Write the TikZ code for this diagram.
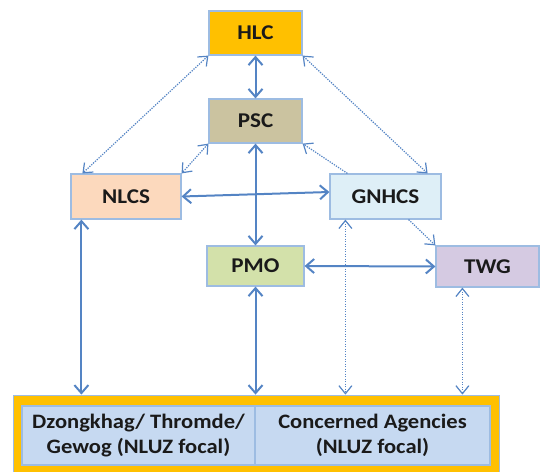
\documentclass[tikz,border=0pt]{standalone}
\usepackage{fontspec}
\setmainfont[FakeStretch=1.1]{Carlito}
\usetikzlibrary{arrows.meta}
\definecolor{arr}{HTML}{5484C4}
\definecolor{bord}{HTML}{9DBCE2}
\definecolor{hlcfill}{HTML}{FFC000}
\definecolor{pscfill}{HTML}{CBC3A0}
\definecolor{nlcsfill}{HTML}{FCD9BD}
\definecolor{gnhfill}{HTML}{DEEFF7}
\definecolor{pmofill}{HTML}{D3E1AA}
\definecolor{twgfill}{HTML}{D5CAE2}
\definecolor{cellfill}{HTML}{C6D9F1}
\definecolor{txt}{HTML}{1A1A1A}
\begin{document}
\begin{tikzpicture}[x=1pt,y=-1pt,
  box/.style={draw=bord, line width=1.2pt, inner sep=0pt, text=txt,
    font=\bfseries\fontsize{21}{24}\selectfont},
  cell/.style={box, fill=cellfill, draw=bord, align=center,
    font=\bfseries\fontsize{20.5}{25}\selectfont},
  solidarr/.style={draw=arr, line width=2pt, {Straight Barb[length=8pt,width=14pt]}-{Straight Barb[length=8pt,width=14pt]}},
  dotarr/.style={draw=arr, line width=1.2pt, dash pattern=on 1.3pt off 1.2pt, {Straight Barb[length=8pt,width=13pt]}-{Straight Barb[length=8pt,width=13pt]}},
  dotone/.style={draw=arr, line width=1.2pt, dash pattern=on 1.3pt off 1.2pt, -{Straight Barb[length=8pt,width=13pt]}}
]
\useasboundingbox (0,0) rectangle (540,471);

\node[box, fill=hlcfill, minimum width=93pt, minimum height=44pt] (hlc) at (255.5,33) {HLC};
\node[box, fill=pscfill, minimum width=93pt, minimum height=44pt] (psc) at (255.5,121) {PSC};
\node[box, fill=nlcsfill, minimum width=110pt, minimum height=45pt] (nlcs) at (126,196.5) {NLCS};
\node[box, fill=gnhfill, minimum width=111pt, minimum height=45pt] (gnhcs) at (385.5,196.5) {GNHCS};
\node[box, fill=pmofill, minimum width=97pt, minimum height=40pt] (pmo) at (255.5,266) {PMO};
\node[box, fill=twgfill, minimum width=103pt, minimum height=41pt] (twg) at (487.5,266.5) {TWG};

\node[draw=bord, line width=0.8pt, fill=hlcfill, minimum width=486pt, minimum height=90pt, inner sep=0pt] (outer) at (256,440) {};
\node[cell, minimum width=233pt, minimum height=59pt] (left) at (138.5,435.5) {Dzongkhag/ Thromde/\\Gewog (NLUZ focal)};
\node[cell, minimum width=235pt, minimum height=59pt] (right) at (372.5,435.5) {Concerned Agencies\\(NLUZ focal)};

\draw[solidarr] (hlc.south) -- (psc.north);
\draw[solidarr] (psc.south) -- (pmo.north);
\draw[solidarr] (nlcs.east) -- ([yshift=4.5pt]gnhcs.west);
\draw[solidarr] (pmo.east) -- (twg.west);
\draw[solidarr] ([xshift=11pt]nlcs.south west) -- ([xshift=11pt]nlcs.south west |- outer.north);
\draw[solidarr] (pmo.south) -- (pmo.south |- outer.north);

\draw[dotarr] (hlc.south west) -- ([xshift=12pt]nlcs.north west);
\draw[dotarr] (hlc.south east) -- ([xshift=-14pt]gnhcs.north east);
\draw[dotarr] (psc.south west) -- (nlcs.north east);
\draw[dotone] ([xshift=18pt]gnhcs.north west) -- (psc.south east);
\draw[dotone] ([xshift=-33pt]gnhcs.south east) -- (twg.north west);
\draw[dotarr] ([xshift=16pt]gnhcs.south west) -- ([xshift=16pt]gnhcs.south west |- outer.north);
\draw[dotarr] ([xshift=27pt]twg.south west) -- ([xshift=27pt]twg.south west |- outer.north);
\end{tikzpicture}
\end{document}
